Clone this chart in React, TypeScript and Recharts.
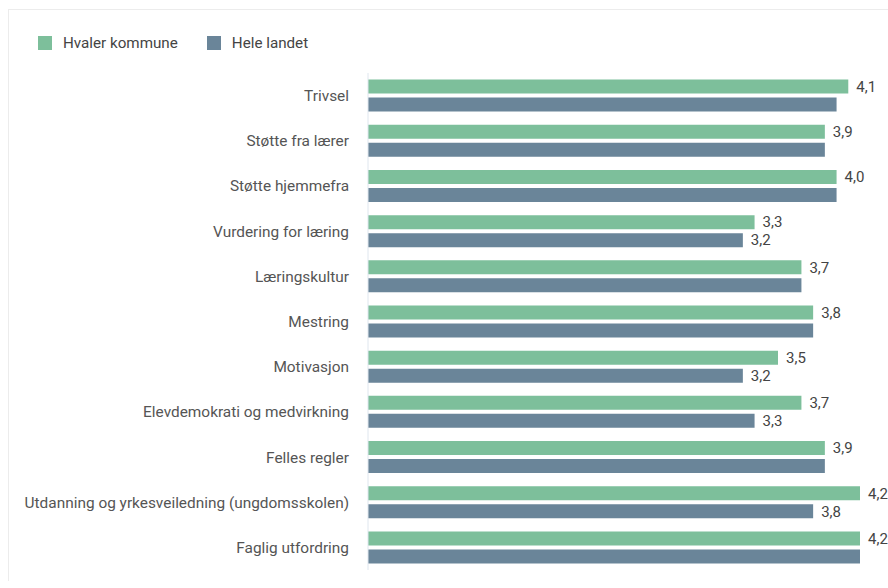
import { Bar, BarChart, LabelList, Legend, XAxis, YAxis } from "recharts";

const categories = [
  "Trivsel",
  "Støtte fra lærer",
  "Støtte hjemmefra",
  "Vurdering for læring",
  "Læringskultur",
  "Mestring",
  "Motivasjon",
  "Elevdemokrati og medvirkning",
  "Felles regler",
  "Utdanning og yrkesveiledning (ungdomsskolen)",
  "Faglig utfordring",
];
const hvaler = [4.1, 3.9, 4.0, 3.3, 3.7, 3.8, 3.5, 3.7, 3.9, 4.2, 4.2];
const landet = [4.0, 3.9, 4.0, 3.2, 3.7, 3.8, 3.2, 3.3, 3.9, 3.8, 4.2];
// the source only prints the national value where it differs visibly
const showLandetLabel = [false, false, false, true, false, false, true, true, false, true, false];

const GREEN = "#7dbf9b";
const BLUE = "#6a8599";
const FONT = "Roboto, sans-serif";

const series = [
  { key: "hvaler", name: "Hvaler kommune", color: GREEN },
  { key: "landet", name: "Hele landet", color: BLUE },
];

const data = categories.map((name, i) => ({
  name,
  hvaler: hvaler[i],
  landet: landet[i],
  landetLabel: showLandetLabel[i] ? landet[i] : null,
}));

const fmt = (v: unknown) =>
  v == null ? "" : Number(v).toFixed(1).replace(".", ",");

function LegendContent() {
  return (
    <div style={{ display: "flex", fontFamily: FONT, fontSize: 15.2, color: "#444" }}>
      {series.map((s) => (
        <div key={s.key} style={{ display: "flex", alignItems: "center", marginRight: 29 }}>
          <span
            style={{
              width: 14,
              height: 14,
              background: s.color,
              display: "inline-block",
              marginRight: 11,
            }}
          />
          {s.name}
        </div>
      ))}
    </div>
  );
}

export default function App() {
  return (
    <div
      style={{
        position: "fixed",
        left: 8,
        top: 9,
        width: 880,
        height: 572,
        borderTop: "1px solid #ececec",
        borderLeft: "1px solid #ececec",
        boxSizing: "border-box",
        background: "#fff",
      }}
    >
      <BarChart
        layout="vertical"
        width={879}
        height={571}
        data={data}
        margin={{ top: 63, right: 28, bottom: 11, left: 0 }}
        barCategoryGap="14.6%"
        barGap={4}
      >
        <Legend
          verticalAlign="middle"
          align="center"
          layout="horizontal"
          content={<LegendContent />}
          wrapperStyle={{ top: 24, left: 29, width: "auto" }}
        />
        <XAxis type="number" domain={[0, 4.2]} hide />
        <YAxis
          type="category"
          dataKey="name"
          width={359}
          axisLine={{ stroke: "#dfe6ee" }}
          tickLine={false}
          tickMargin={13}
          interval={0}
          tick={{ fill: "#555", fontSize: 15.4, fontFamily: FONT }}
        />
        <Bar dataKey="hvaler" name="Hvaler kommune" fill={GREEN} isAnimationActive={false}>
          <LabelList
            dataKey="hvaler"
            position="right"
            offset={8}
            formatter={fmt}
            style={{ fill: "#444", fontSize: 15, fontFamily: FONT }}
          />
        </Bar>
        <Bar dataKey="landet" name="Hele landet" fill={BLUE} isAnimationActive={false}>
          <LabelList
            dataKey="landetLabel"
            position="right"
            offset={8}
            formatter={fmt}
            style={{ fill: "#444", fontSize: 15, fontFamily: FONT }}
          />
        </Bar>
      </BarChart>
    </div>
  );
}
